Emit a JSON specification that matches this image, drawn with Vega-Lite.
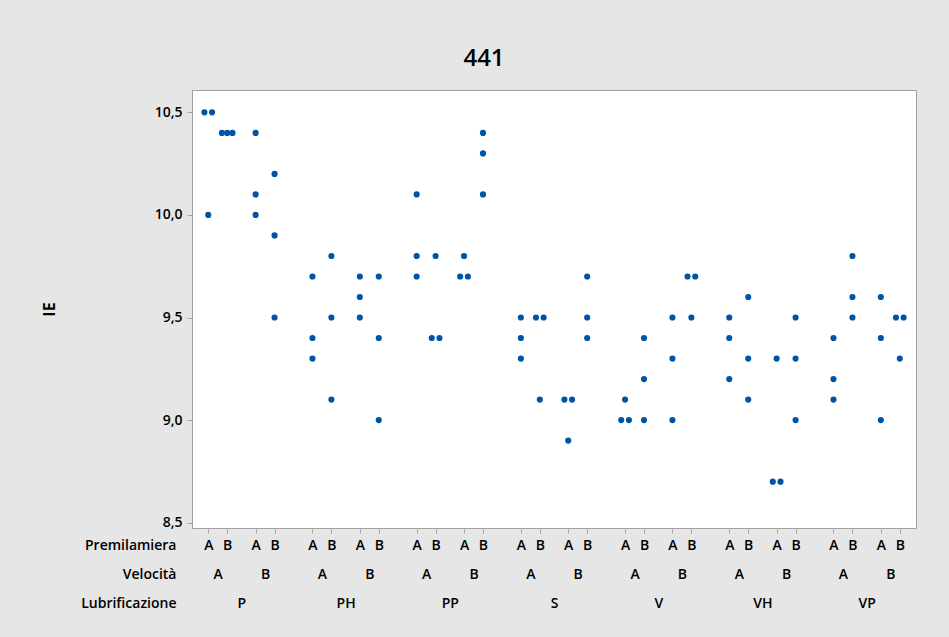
{
  "$schema": "https://vega.github.io/schema/vega-lite/v6.json",
  "width": 724,
  "height": 438,
  "autosize": {"type": "none"},
  "padding": {"left": 192, "top": 90, "right": 33, "bottom": 109},
  "background": "#e6e6e6",
  "title": {"text": "441", "fontSize": 24, "fontWeight": 600, "font": "Open Sans", "color": "black", "anchor": "middle", "frame": "group", "dx": -70, "offset": 0, "baseline": "alphabetic"},
  "data": {"values": [
    {"Lub":"P","Vel":"A","Prem":"A","Cella":"P|A|A","IE":10.5},
    {"Lub":"P","Vel":"A","Prem":"A","Cella":"P|A|A","IE":10.5},
    {"Lub":"P","Vel":"A","Prem":"A","Cella":"P|A|A","IE":10.0},
    {"Lub":"P","Vel":"A","Prem":"B","Cella":"P|A|B","IE":10.4},
    {"Lub":"P","Vel":"A","Prem":"B","Cella":"P|A|B","IE":10.4},
    {"Lub":"P","Vel":"A","Prem":"B","Cella":"P|A|B","IE":10.4},
    {"Lub":"P","Vel":"B","Prem":"A","Cella":"P|B|A","IE":10.4},
    {"Lub":"P","Vel":"B","Prem":"A","Cella":"P|B|A","IE":10.1},
    {"Lub":"P","Vel":"B","Prem":"A","Cella":"P|B|A","IE":10.0},
    {"Lub":"P","Vel":"B","Prem":"B","Cella":"P|B|B","IE":10.2},
    {"Lub":"P","Vel":"B","Prem":"B","Cella":"P|B|B","IE":9.9},
    {"Lub":"P","Vel":"B","Prem":"B","Cella":"P|B|B","IE":9.5},
    {"Lub":"PH","Vel":"A","Prem":"A","Cella":"PH|A|A","IE":9.7},
    {"Lub":"PH","Vel":"A","Prem":"A","Cella":"PH|A|A","IE":9.4},
    {"Lub":"PH","Vel":"A","Prem":"A","Cella":"PH|A|A","IE":9.3},
    {"Lub":"PH","Vel":"A","Prem":"B","Cella":"PH|A|B","IE":9.8},
    {"Lub":"PH","Vel":"A","Prem":"B","Cella":"PH|A|B","IE":9.5},
    {"Lub":"PH","Vel":"A","Prem":"B","Cella":"PH|A|B","IE":9.1},
    {"Lub":"PH","Vel":"B","Prem":"A","Cella":"PH|B|A","IE":9.7},
    {"Lub":"PH","Vel":"B","Prem":"A","Cella":"PH|B|A","IE":9.6},
    {"Lub":"PH","Vel":"B","Prem":"A","Cella":"PH|B|A","IE":9.5},
    {"Lub":"PH","Vel":"B","Prem":"B","Cella":"PH|B|B","IE":9.7},
    {"Lub":"PH","Vel":"B","Prem":"B","Cella":"PH|B|B","IE":9.4},
    {"Lub":"PH","Vel":"B","Prem":"B","Cella":"PH|B|B","IE":9.0},
    {"Lub":"PP","Vel":"A","Prem":"A","Cella":"PP|A|A","IE":10.1},
    {"Lub":"PP","Vel":"A","Prem":"A","Cella":"PP|A|A","IE":9.8},
    {"Lub":"PP","Vel":"A","Prem":"A","Cella":"PP|A|A","IE":9.7},
    {"Lub":"PP","Vel":"A","Prem":"B","Cella":"PP|A|B","IE":9.8},
    {"Lub":"PP","Vel":"A","Prem":"B","Cella":"PP|A|B","IE":9.4},
    {"Lub":"PP","Vel":"A","Prem":"B","Cella":"PP|A|B","IE":9.4},
    {"Lub":"PP","Vel":"B","Prem":"A","Cella":"PP|B|A","IE":9.8},
    {"Lub":"PP","Vel":"B","Prem":"A","Cella":"PP|B|A","IE":9.7},
    {"Lub":"PP","Vel":"B","Prem":"A","Cella":"PP|B|A","IE":9.7},
    {"Lub":"PP","Vel":"B","Prem":"B","Cella":"PP|B|B","IE":10.4},
    {"Lub":"PP","Vel":"B","Prem":"B","Cella":"PP|B|B","IE":10.3},
    {"Lub":"PP","Vel":"B","Prem":"B","Cella":"PP|B|B","IE":10.1},
    {"Lub":"S","Vel":"A","Prem":"A","Cella":"S|A|A","IE":9.5},
    {"Lub":"S","Vel":"A","Prem":"A","Cella":"S|A|A","IE":9.4},
    {"Lub":"S","Vel":"A","Prem":"A","Cella":"S|A|A","IE":9.3},
    {"Lub":"S","Vel":"A","Prem":"B","Cella":"S|A|B","IE":9.5},
    {"Lub":"S","Vel":"A","Prem":"B","Cella":"S|A|B","IE":9.5},
    {"Lub":"S","Vel":"A","Prem":"B","Cella":"S|A|B","IE":9.1},
    {"Lub":"S","Vel":"B","Prem":"A","Cella":"S|B|A","IE":9.1},
    {"Lub":"S","Vel":"B","Prem":"A","Cella":"S|B|A","IE":9.1},
    {"Lub":"S","Vel":"B","Prem":"A","Cella":"S|B|A","IE":8.9},
    {"Lub":"S","Vel":"B","Prem":"B","Cella":"S|B|B","IE":9.7},
    {"Lub":"S","Vel":"B","Prem":"B","Cella":"S|B|B","IE":9.5},
    {"Lub":"S","Vel":"B","Prem":"B","Cella":"S|B|B","IE":9.4},
    {"Lub":"V","Vel":"A","Prem":"A","Cella":"V|A|A","IE":9.1},
    {"Lub":"V","Vel":"A","Prem":"A","Cella":"V|A|A","IE":9.0},
    {"Lub":"V","Vel":"A","Prem":"A","Cella":"V|A|A","IE":9.0},
    {"Lub":"V","Vel":"A","Prem":"B","Cella":"V|A|B","IE":9.4},
    {"Lub":"V","Vel":"A","Prem":"B","Cella":"V|A|B","IE":9.2},
    {"Lub":"V","Vel":"A","Prem":"B","Cella":"V|A|B","IE":9.0},
    {"Lub":"V","Vel":"B","Prem":"A","Cella":"V|B|A","IE":9.5},
    {"Lub":"V","Vel":"B","Prem":"A","Cella":"V|B|A","IE":9.3},
    {"Lub":"V","Vel":"B","Prem":"A","Cella":"V|B|A","IE":9.0},
    {"Lub":"V","Vel":"B","Prem":"B","Cella":"V|B|B","IE":9.7},
    {"Lub":"V","Vel":"B","Prem":"B","Cella":"V|B|B","IE":9.7},
    {"Lub":"V","Vel":"B","Prem":"B","Cella":"V|B|B","IE":9.5},
    {"Lub":"VH","Vel":"A","Prem":"A","Cella":"VH|A|A","IE":9.5},
    {"Lub":"VH","Vel":"A","Prem":"A","Cella":"VH|A|A","IE":9.4},
    {"Lub":"VH","Vel":"A","Prem":"A","Cella":"VH|A|A","IE":9.2},
    {"Lub":"VH","Vel":"A","Prem":"B","Cella":"VH|A|B","IE":9.6},
    {"Lub":"VH","Vel":"A","Prem":"B","Cella":"VH|A|B","IE":9.3},
    {"Lub":"VH","Vel":"A","Prem":"B","Cella":"VH|A|B","IE":9.1},
    {"Lub":"VH","Vel":"B","Prem":"A","Cella":"VH|B|A","IE":9.3},
    {"Lub":"VH","Vel":"B","Prem":"A","Cella":"VH|B|A","IE":8.7},
    {"Lub":"VH","Vel":"B","Prem":"A","Cella":"VH|B|A","IE":8.7},
    {"Lub":"VH","Vel":"B","Prem":"B","Cella":"VH|B|B","IE":9.5},
    {"Lub":"VH","Vel":"B","Prem":"B","Cella":"VH|B|B","IE":9.3},
    {"Lub":"VH","Vel":"B","Prem":"B","Cella":"VH|B|B","IE":9.0},
    {"Lub":"VP","Vel":"A","Prem":"A","Cella":"VP|A|A","IE":9.4},
    {"Lub":"VP","Vel":"A","Prem":"A","Cella":"VP|A|A","IE":9.2},
    {"Lub":"VP","Vel":"A","Prem":"A","Cella":"VP|A|A","IE":9.1},
    {"Lub":"VP","Vel":"A","Prem":"B","Cella":"VP|A|B","IE":9.8},
    {"Lub":"VP","Vel":"A","Prem":"B","Cella":"VP|A|B","IE":9.6},
    {"Lub":"VP","Vel":"A","Prem":"B","Cella":"VP|A|B","IE":9.5},
    {"Lub":"VP","Vel":"B","Prem":"A","Cella":"VP|B|A","IE":9.6},
    {"Lub":"VP","Vel":"B","Prem":"A","Cella":"VP|B|A","IE":9.4},
    {"Lub":"VP","Vel":"B","Prem":"A","Cella":"VP|B|A","IE":9.0},
    {"Lub":"VP","Vel":"B","Prem":"B","Cella":"VP|B|B","IE":9.5},
    {"Lub":"VP","Vel":"B","Prem":"B","Cella":"VP|B|B","IE":9.5},
    {"Lub":"VP","Vel":"B","Prem":"B","Cella":"VP|B|B","IE":9.3}
  ]},
  "transform": [
    {"joinaggregate": [{"op": "count", "as": "nt"}], "groupby": ["Cella", "IE"]},
    {"window": [{"op": "row_number", "as": "tie"}], "groupby": ["Cella", "IE"]}
  ],
  "encoding": {
    "y": {
      "field": "IE", "type": "quantitative",
      "scale": {"domain": [8.474, 10.609], "nice": false, "zero": false},
      "axis": {
        "values": [8.5, 9, 9.5, 10, 10.5],
        "labelExpr": "replace(format(datum.value, '.1f'), '.', ',')",
        "grid": false, "domain": false,
        "tickSize": 5, "tickColor": "#a8a8a8",
        "labelFont": "Open Sans", "labelFontSize": 14, "labelFontWeight": 600, "labelColor": "black", "labelPadding": 5,
        "title": "IE", "titleFont": "Open Sans", "titleFontSize": 16, "titleFontWeight": "bold", "titleColor": "black", "titlePadding": 97
      }
    }
  },
  "layer": [
    {
      "transform": [{"filter": "datum.nt == 1"}],
      "mark": {"type": "point", "filled": true, "size": 38, "color": "#0054a6", "opacity": 1, "strokeWidth": 0},
      "encoding": {
        "x": {
          "field": "Cella", "type": "nominal",
          "scale": {"type": "point", "padding": 0, "range": [16.25, 707.8], "domain": ["P|A|A","P|A|m","P|A|B","P|g1","P|g2","P|B|A","P|B|m","P|B|B","P|g3","P|g4","P|g5","PH|A|A","PH|A|m","PH|A|B","PH|g1","PH|g2","PH|B|A","PH|B|m","PH|B|B","PH|g3","PH|g4","PH|g5","PP|A|A","PP|A|m","PP|A|B","PP|g1","PP|g2","PP|B|A","PP|B|m","PP|B|B","PP|g3","PP|g4","PP|g5","S|A|A","S|A|m","S|A|B","S|g1","S|g2","S|B|A","S|B|m","S|B|B","S|g3","S|g4","S|g5","V|A|A","V|A|m","V|A|B","V|g1","V|g2","V|B|A","V|B|m","V|B|B","V|g3","V|g4","V|g5","VH|A|A","VH|A|m","VH|A|B","VH|g1","VH|g2","VH|B|A","VH|B|m","VH|B|B","VH|g3","VH|g4","VH|g5","VP|A|A","VP|A|m","VP|A|B","VP|g1","VP|g2","VP|B|A","VP|B|m","VP|B|B"]},
          "axis": {
            "orient": "bottom",
            "values": ["P|A|A","P|A|B","P|B|A","P|B|B","PH|A|A","PH|A|B","PH|B|A","PH|B|B","PP|A|A","PP|A|B","PP|B|A","PP|B|B","S|A|A","S|A|B","S|B|A","S|B|B","V|A|A","V|A|B","V|B|A","V|B|B","VH|A|A","VH|A|B","VH|B|A","VH|B|B","VP|A|A","VP|A|B","VP|B|A","VP|B|B"],
            "labelExpr": "split(datum.value, '|')[2]",
            "domain": false, "grid": false, "ticks": true, "tickSize": 5, "tickColor": "#a8a8a8",
            "labelAngle": 0, "labelOverlap": false, "labelFlush": false, "labelBaseline": "middle", "labelPadding": 12,
            "labelFont": "Open Sans", "labelFontSize": 14, "labelFontWeight": 600, "labelColor": "black",
            "title": "Premilamiera", "titleX": -16, "titleY": 17, "titleAlign": "right", "titleBaseline": "middle", "titleAngle": 0,
            "titleFont": "Open Sans", "titleFontSize": 14, "titleFontWeight": 600, "titleColor": "black"
          }
        }
      }
    },
    {
      "transform": [{"filter": "datum.nt == 2"}],
      "mark": {"type": "point", "filled": true, "size": 38, "color": "#0054a6", "opacity": 1, "strokeWidth": 0},
      "encoding": {
        "x": {
          "field": "Cella", "type": "nominal",
          "scale": {"type": "point", "padding": 0, "range": [16.25, 707.8], "domain": ["P|A|A","P|A|m","P|A|B","P|g1","P|g2","P|B|A","P|B|m","P|B|B","P|g3","P|g4","P|g5","PH|A|A","PH|A|m","PH|A|B","PH|g1","PH|g2","PH|B|A","PH|B|m","PH|B|B","PH|g3","PH|g4","PH|g5","PP|A|A","PP|A|m","PP|A|B","PP|g1","PP|g2","PP|B|A","PP|B|m","PP|B|B","PP|g3","PP|g4","PP|g5","S|A|A","S|A|m","S|A|B","S|g1","S|g2","S|B|A","S|B|m","S|B|B","S|g3","S|g4","S|g5","V|A|A","V|A|m","V|A|B","V|g1","V|g2","V|B|A","V|B|m","V|B|B","V|g3","V|g4","V|g5","VH|A|A","VH|A|m","VH|A|B","VH|g1","VH|g2","VH|B|A","VH|B|m","VH|B|B","VH|g3","VH|g4","VH|g5","VP|A|A","VP|A|m","VP|A|B","VP|g1","VP|g2","VP|B|A","VP|B|m","VP|B|B"]},
          "axis": {
            "orient": "bottom",
            "values": ["P|A|m","P|B|m","PH|A|m","PH|B|m","PP|A|m","PP|B|m","S|A|m","S|B|m","V|A|m","V|B|m","VH|A|m","VH|B|m","VP|A|m","VP|B|m"],
            "labelExpr": "split(datum.value, '|')[1]",
            "domain": false, "grid": false, "ticks": false, "tickSize": 0,
            "labelAngle": 0, "labelOverlap": false, "labelFlush": false, "labelBaseline": "middle", "labelPadding": 46,
            "labelFont": "Open Sans", "labelFontSize": 14, "labelFontWeight": 600, "labelColor": "black",
            "title": "Velocità", "titleX": -16, "titleY": 46, "titleAlign": "right", "titleBaseline": "middle", "titleAngle": 0,
            "titleFont": "Open Sans", "titleFontSize": 14, "titleFontWeight": 600, "titleColor": "black"
          }
        },
        "xOffset": {"field": "tie", "type": "nominal", "scale": {"type": "point", "domain": [1, 2], "range": [-3.85, 3.85], "padding": 0}}
      }
    },
    {
      "transform": [{"filter": "datum.nt == 3"}],
      "mark": {"type": "point", "filled": true, "size": 38, "color": "#0054a6", "opacity": 1, "strokeWidth": 0},
      "encoding": {
        "x": {
          "field": "Cella", "type": "nominal",
          "scale": {"type": "point", "padding": 0, "range": [16.25, 707.8], "domain": ["P|A|A","P|A|m","P|A|B","P|g1","P|g2","P|B|A","P|B|m","P|B|B","P|g3","P|g4","P|g5","PH|A|A","PH|A|m","PH|A|B","PH|g1","PH|g2","PH|B|A","PH|B|m","PH|B|B","PH|g3","PH|g4","PH|g5","PP|A|A","PP|A|m","PP|A|B","PP|g1","PP|g2","PP|B|A","PP|B|m","PP|B|B","PP|g3","PP|g4","PP|g5","S|A|A","S|A|m","S|A|B","S|g1","S|g2","S|B|A","S|B|m","S|B|B","S|g3","S|g4","S|g5","V|A|A","V|A|m","V|A|B","V|g1","V|g2","V|B|A","V|B|m","V|B|B","V|g3","V|g4","V|g5","VH|A|A","VH|A|m","VH|A|B","VH|g1","VH|g2","VH|B|A","VH|B|m","VH|B|B","VH|g3","VH|g4","VH|g5","VP|A|A","VP|A|m","VP|A|B","VP|g1","VP|g2","VP|B|A","VP|B|m","VP|B|B"]},
          "axis": {
            "orient": "bottom",
            "values": ["P|g1","PH|g1","PP|g1","S|g1","V|g1","VH|g1","VP|g1"],
            "labelExpr": "split(datum.value, '|')[0]",
            "domain": false, "grid": false, "ticks": false, "tickSize": 0,
            "labelAngle": 0, "labelOverlap": false, "labelFlush": false, "labelBaseline": "middle", "labelPadding": 75, "labelOffset": 4.74,
            "labelFont": "Open Sans", "labelFontSize": 14, "labelFontWeight": 600, "labelColor": "black",
            "title": "Lubrificazione", "titleX": -16, "titleY": 75, "titleAlign": "right", "titleBaseline": "middle", "titleAngle": 0,
            "titleFont": "Open Sans", "titleFontSize": 14, "titleFontWeight": 600, "titleColor": "black"
          }
        },
        "xOffset": {"field": "tie", "type": "nominal", "scale": {"type": "point", "domain": [1, 2, 3], "range": [-5.3, 5.3], "padding": 0}}
      }
    }
  ],
  "resolve": {"scale": {"xOffset": "independent"}, "axis": {"x": "independent"}},
  "config": {
    "view": {"stroke": "#a0a0a0", "fill": "white"}
  }
}
